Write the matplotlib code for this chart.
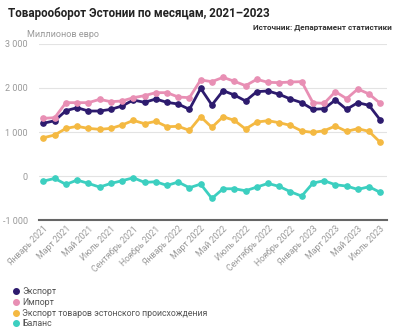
import matplotlib
matplotlib.use('Agg')
import matplotlib.pyplot as plt
from matplotlib.lines import Line2D
from matplotlib.ticker import FuncFormatter

plt.rcParams['font.family'] = ['Roboto', 'DejaVu Sans']

months = ['Январь 2021', 'Февраль 2021', 'Март 2021', 'Апрель 2021', 'Май 2021', 'Июнь 2021',
          'Июль 2021', 'Август 2021', 'Сентябрь 2021', 'Октябрь 2021', 'Ноябрь 2021', 'Декабрь 2021',
          'Январь 2022', 'Февраль 2022', 'Март 2022', 'Апрель 2022', 'Май 2022', 'Июнь 2022',
          'Июль 2022', 'Август 2022', 'Сентябрь 2022', 'Октябрь 2022', 'Ноябрь 2022', 'Декабрь 2022',
          'Январь 2023', 'Февраль 2023', 'Март 2023', 'Апрель 2023', 'Май 2023', 'Июнь 2023',
          'Июль 2023']

export = [1200, 1257, 1485, 1553, 1477, 1477, 1515, 1591, 1727, 1674, 1750, 1674,
          1636, 1515, 1992, 1614, 1939, 1841, 1705, 1917, 1932, 1856, 1750, 1667,
          1515, 1530, 1727, 1515, 1667, 1606, 1273]
imports = [1311, 1326, 1667, 1667, 1667, 1742, 1689, 1705, 1780, 1826, 1894, 1894,
           1795, 1780, 2182, 2144, 2242, 2152, 2053, 2197, 2129, 2121, 2136, 2144,
           1667, 1651, 1917, 1758, 1977, 1864, 1651]
export_est = [871, 932, 1083, 1129, 1083, 1061, 1083, 1159, 1265, 1189, 1242, 1121,
              1129, 1038, 1348, 1106, 1348, 1265, 1068, 1227, 1257, 1212, 1151, 1023,
              992, 1030, 1136, 1015, 1076, 1015, 765]
balance = [-114, -53, -189, -91, -167, -250, -167, -106, -38, -144, -129, -212,
           -136, -265, -182, -508, -288, -288, -333, -250, -167, -235, -356, -455,
           -159, -106, -197, -227, -303, -242, -371]

series = [
    ('Экспорт', export, '#2d1b6e'),
    ('Импорт', imports, '#e88fb4'),
    ('Экспорт товаров эстонского происхождения', export_est, '#f4b942'),
    ('Баланс', balance, '#3ccfc0'),
]

fig = plt.figure(figsize=(4, 3.33), dpi=100)
ax = fig.add_axes([0.0975, 0.339, 0.87, 0.529])

x = list(range(len(months)))
for name, vals, color in series:
    ax.plot(x, vals, color=color, lw=2, marker='o', ms=3.8, zorder=3)

ax.set_xlim(-0.4, 30.6)
ax.set_ylim(-1000, 3000)
ax.set_yticks([-1000, 0, 1000, 2000, 3000])
ax.yaxis.set_major_formatter(FuncFormatter(lambda v, p: f'{int(v):,}'.replace(',', ' ')))
ax.grid(axis='y', color='#e3e3e3', lw=0.8)
ax.set_axisbelow(True)
for s in ['top', 'right', 'left']:
    ax.spines[s].set_visible(False)
ax.spines['bottom'].set_color('#666666')
ax.spines['bottom'].set_linewidth(1.5)
ax.tick_params(axis='y', length=0, labelsize=6.5, labelcolor='#999999', pad=8)
ax.set_xticks(x[::2])
ax.set_xticklabels(months[::2], rotation=45, ha='right', rotation_mode='anchor')
ax.tick_params(axis='x', length=0, labelsize=6.3, labelcolor='#999999', pad=3)

fig.text(0.02, 0.96, 'Товарооборот Эстонии по месяцам, 2021–2023', fontsize=8.4,
         fontweight='bold', color='#222222', va='center')
fig.text(0.98, 0.918, 'Источник: Департамент статистики', fontsize=5.9,
         fontweight='bold', color='#333333', ha='right', va='center')
fig.text(0.068, 0.897, 'Миллионов евро', fontsize=6.5, color='#999999', va='center')

handles = [Line2D([], [], marker='o', ls='none', color=c, ms=4) for _, _, c in series]
fig.legend(handles, [n for n, _, _ in series], loc='upper left',
           bbox_to_anchor=(0.03, 0.139), frameon=False, fontsize=6.3,
           handlelength=0.8, handletextpad=0.4, labelspacing=0.22,
           borderaxespad=0, borderpad=0, labelcolor='#555555')

fig.savefig('out.png', dpi=100)
